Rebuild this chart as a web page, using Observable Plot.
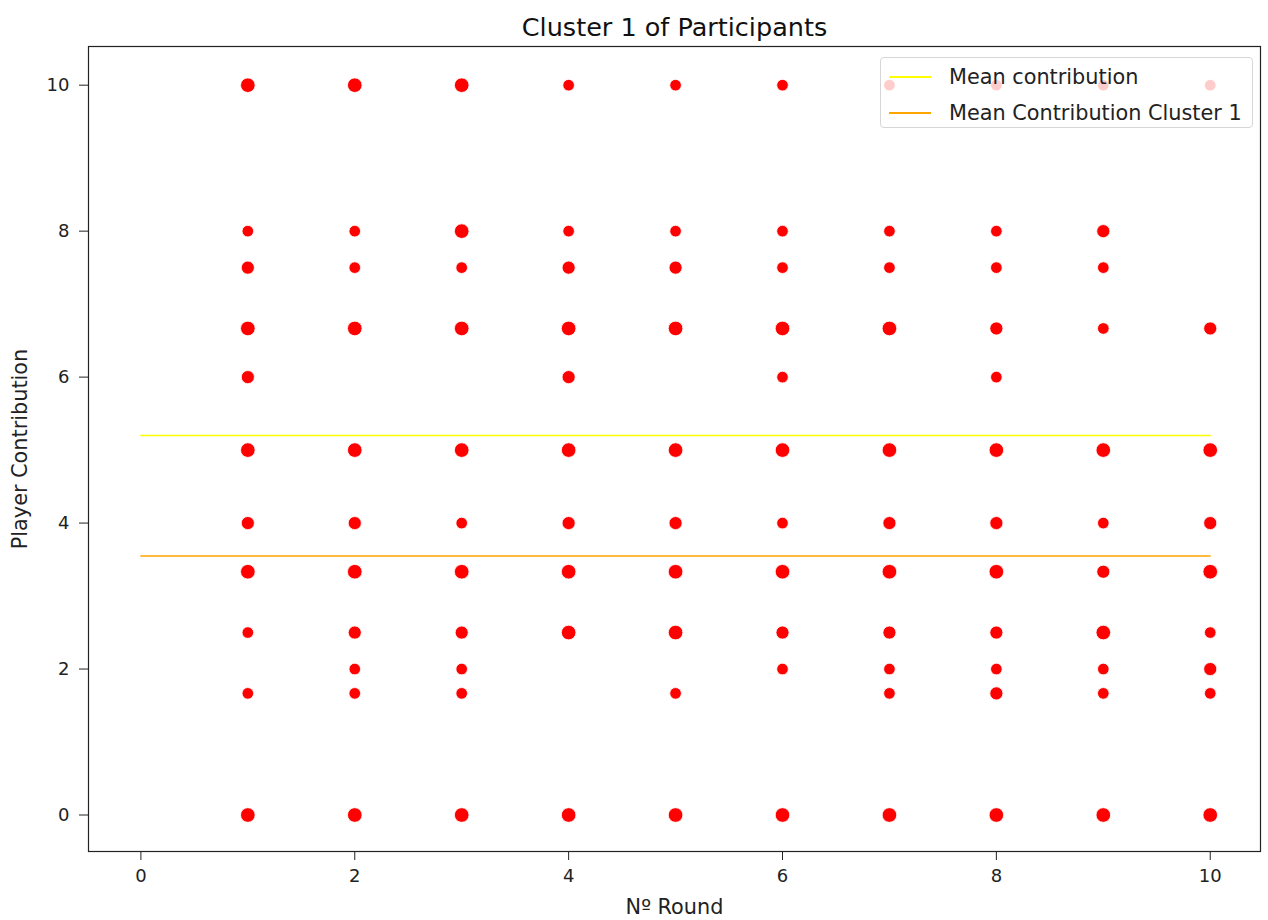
<!DOCTYPE html>
<html>
<head>
<meta charset="utf-8">
<script src="https://cdn.jsdelivr.net/npm/d3@7"></script>
<script src="https://cdn.jsdelivr.net/npm/@observablehq/plot@0.6"></script>
<style>
  html, body { margin: 0; padding: 0; background: #fff; }
  #wrap { position: relative; width: 1268px; height: 920px; font-family: "DejaVu Sans", sans-serif; }
  #legend {
    position: absolute; left: 880px; top: 57px; width: 373px; height: 71px;
    box-sizing: border-box; background: rgba(255,255,255,0.8);
    border: 1px solid #d6d6d6; border-radius: 4px; font-size: 20.8px; color: #222;
  }
  .lg-row { position: absolute; left: 0; height: 26px; display: flex; align-items: center; white-space: nowrap; }
  .lg-line { width: 42px; height: 2px; margin-left: 8px; margin-right: 18px; }
</style>
</head>
<body>
<div id="wrap"></div>
<script>
// ---- data ----
const rounds = [1, 2, 3, 4, 5, 6, 7, 8, 9, 10];
const contributionLevels = [10, 8, 7.5, 20/3, 6, 5, 4, 10/3, 2.5, 2, 5/3, 0];
// overlap count of participants at each level (0 = no point), one row per round
const countsByRound = [
  [3, 1, 2, 3, 2, 3, 2, 3, 1, 0, 1, 3], // round 1
  [3, 1, 1, 3, 0, 3, 2, 3, 2, 1, 1, 3], // round 2
  [3, 3, 1, 3, 0, 3, 1, 3, 2, 1, 1, 3], // round 3
  [1, 1, 2, 3, 2, 3, 2, 3, 3, 0, 0, 3], // round 4
  [1, 1, 2, 3, 0, 3, 2, 3, 3, 0, 1, 3], // round 5
  [1, 1, 1, 3, 1, 3, 1, 3, 2, 1, 0, 3], // round 6
  [1, 1, 1, 3, 0, 3, 2, 3, 2, 1, 1, 3], // round 7
  [1, 1, 1, 2, 1, 3, 2, 3, 2, 1, 2, 3], // round 8
  [1, 2, 1, 1, 0, 3, 1, 2, 3, 1, 1, 3], // round 9
  [1, 0, 0, 2, 0, 3, 2, 3, 1, 2, 1, 3]  // round 10
];
const meanLabels = ["Mean contribution", "Mean Contribution Cluster 1"];
const meanValues = [5.20, 3.55];
const meanColors = ["#ffff00", "#ffa500"];
const meanRange = [0, 10];
const xTicks = [0, 2, 4, 6, 8, 10];
const yTicks = [0, 2, 4, 6, 8, 10];

// ---- build tables ----
const points = [];
rounds.forEach((r, i) => {
  contributionLevels.forEach((v, j) => {
    const c = countsByRound[i][j];
    if (c > 0) points.push({round: r, value: v, count: c});
  });
});
const meanLines = [];
meanLabels.forEach((name, i) => {
  meanRange.forEach(x => meanLines.push({name, x, y: meanValues[i], color: meanColors[i]}));
});

const chart = Plot.plot({
  width: 1268,
  height: 920,
  marginLeft: 88,
  marginRight: 8,
  marginTop: 46,
  marginBottom: 69,
  style: {fontFamily: "DejaVu Sans, sans-serif", fontSize: "17px", color: "#222", background: "#fff"},
  x: {domain: [-0.49, 10.47], ticks: xTicks, label: "Nº Round"},
  y: {domain: [-0.5, 10.53], ticks: yTicks, label: "Player Contribution"},
  r: {type: "linear", domain: [1, 3], range: [5.8, 7.3]},
  marks: [
    Plot.axisX({ticks: xTicks, tickSize: 9, tickPadding: 9, tickFormat: d => String(d), fontSize: 18, label: null}),
    Plot.axisX({ticks: [], tickSize: 0, label: "Nº Round", labelAnchor: "center", labelArrow: "none",
      labelOffset: 62, fontSize: 20.8}),
    Plot.axisY({ticks: yTicks, tickSize: 9, tickPadding: 10, tickFormat: d => String(d), fontSize: 18, label: null}),
    Plot.axisY({ticks: [], tickSize: 0, label: "Player Contribution", labelAnchor: "center", labelArrow: "none",
      labelOffset: 76, fontSize: 20.8}),
    Plot.dot(points, {x: "round", y: "value", r: "count", fill: "#ff0000", stroke: "white", strokeWidth: 0.8}),
    Plot.line(meanLines, {x: "x", y: "y", z: "name", stroke: "color", strokeWidth: 1.5}),
    Plot.frame({stroke: "#222", strokeWidth: 1.2}),
    Plot.text(["Cluster 1 of Participants"], {frameAnchor: "top", lineAnchor: "middle", dy: -19, fontSize: 25.5, fill: "#111"})
  ]
});

const wrap = document.getElementById("wrap");
wrap.appendChild(chart);

// legend overlay (semi-transparent, like matplotlib)
const legend = document.createElement("div");
legend.id = "legend";
meanLabels.forEach((name, i) => {
  const row = document.createElement("div");
  row.className = "lg-row";
  row.style.top = (6 + i * 36) + "px";
  const ln = document.createElement("div");
  ln.className = "lg-line";
  ln.style.background = meanColors[i];
  const tx = document.createElement("span");
  tx.textContent = name;
  row.appendChild(ln);
  row.appendChild(tx);
  legend.appendChild(row);
});
wrap.appendChild(legend);
</script>
</body>
</html>
